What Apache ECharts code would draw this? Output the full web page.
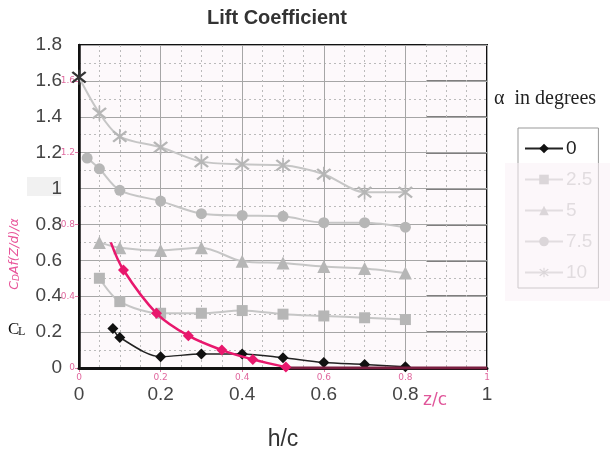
<!DOCTYPE html>
<html>
<head>
<meta charset="utf-8">
<script src="https://cdn.jsdelivr.net/npm/echarts@6/dist/echarts.min.js"></script>
<style>html,body{margin:0;padding:0;background:#fff}#c{width:610px;height:452px}</style>
</head>
<body>
<div id="c"></div>
<script>
// ---- data ----
const seriesNames = ['0', '2.5', '5', '7.5', '10'];
const alpha0X  = [0.083, 0.1, 0.2, 0.3, 0.4, 0.5, 0.6, 0.7, 0.8];
const alpha0Y  = [0.22, 0.17, 0.063, 0.078, 0.078, 0.057, 0.03, 0.02, 0.007];
const alpha25X = [0.05, 0.1, 0.2, 0.3, 0.4, 0.5, 0.6, 0.7, 0.8];
const alpha25Y = [0.50, 0.37, 0.305, 0.305, 0.32, 0.30, 0.29, 0.28, 0.27];
const alpha5X  = [0.05, 0.1, 0.2, 0.3, 0.4, 0.5, 0.6, 0.7, 0.8];
const alpha5Y  = [0.70, 0.67, 0.655, 0.67, 0.595, 0.585, 0.565, 0.555, 0.53];
const alpha75X = [0.02, 0.05, 0.1, 0.2, 0.3, 0.4, 0.5, 0.6, 0.7, 0.8];
const alpha75Y = [1.17, 1.11, 0.99, 0.93, 0.86, 0.85, 0.845, 0.81, 0.81, 0.785];
const alpha10X = [0, 0.05, 0.1, 0.2, 0.3, 0.4, 0.5, 0.6, 0.7, 0.8];
const alpha10Y = [1.62, 1.42, 1.29, 1.23, 1.15, 1.135, 1.13, 1.08, 0.98, 0.98];
// overlaid C_D A f(Z/d)/alpha vs z/c curve
const pinkX = [0.078, 0.109, 0.19, 0.268, 0.35, 0.426, 0.507];
const pinkY = [0.70, 0.546, 0.305, 0.18, 0.10, 0.048, 0.005];
const pinkTailX = [0.507, 1.0];
const pinkTailY = [0, 0];

const zip = (xs, ys) => xs.map((x, i) => [x, ys[i]]);

const PINK = '#e8186d';
const GREY_LINE = '#c6c6c6';
const GREY_MARK = '#b6b6b6';
const asterisk = 'path://M9,0 L11,0 L11,20 L9,20 Z M1,4 L3,2 L19,16 L17,18 Z M17,2 L19,4 L3,18 L1,16 Z';

const chart = echarts.init(document.getElementById('c'), null, {renderer: 'canvas'});

function greySeries(name, xs, ys, symbol, size) {
  return {
    name, type: 'line', xAxisIndex: 0, yAxisIndex: 0,
    data: zip(xs, ys), smooth: 0.3, symbol, symbolSize: size,
    lineStyle: {color: GREY_LINE, width: 2},
    itemStyle: {color: GREY_MARK},
    z: 3
  };
}

const s10 = greySeries('10', alpha10X, alpha10Y, asterisk, 15);
s10.data = s10.data.map((p, i) => i === 0 ? {value: p, itemStyle: {color: '#333'}} : p);

const pinkData = zip(pinkX, pinkY).map((p, i) => i === 0 ? {value: p, symbol: 'none'} : p);

const option = {
  backgroundColor: '#fff',
  animation: false,
  title: {
    text: 'Lift Coefficient', left: 202, top: 3,
    textStyle: {fontFamily: 'Liberation Sans, Arial', fontWeight: 'bold', fontSize: 20, color: '#333'}
  },
  legend: {
    data: seriesNames.map((n, i) => ({name: n, textStyle: {color: i === 0 ? '#222' : '#c4c4c4'}})),
    orient: 'vertical', left: 518, top: 128,
    itemWidth: 38, itemHeight: 12, itemGap: 12,
    padding: [11, 6, 6, 6],
    borderColor: '#999', borderWidth: 1,
    selectedMode: false,
    textStyle: {fontFamily: 'Liberation Sans, Arial', fontSize: 19, color: '#c4c4c4', padding: [0, 0, 0, -2]}
  },
  grid: [
    {left: 79, right: 123, top: 45, bottom: 84, outerBoundsMode: 'none', containLabel: false, show: true, backgroundColor: '#fdf9fb', borderColor: '#111', borderWidth: 2},
    {left: 426, right: 123, top: 45, bottom: 84, outerBoundsMode: 'none', containLabel: false, show: false}
  ],
  xAxis: [
    {
      type: 'value', gridIndex: 0, min: 0, max: 1, interval: 0.2,
      name: 'h/c', nameLocation: 'middle', nameGap: 60,
      nameTextStyle: {fontFamily: 'Liberation Sans, Arial', fontSize: 23, color: '#333'},
      axisLine: {show: true, lineStyle: {color: '#111', width: 3}},
      axisTick: {show: false},
      axisLabel: {fontFamily: 'Liberation Sans, Arial', fontSize: 19, color: '#444', margin: 17},
      splitLine: {show: true, lineStyle: {color: '#a6a6a6', width: 1}},
      minorTick: {show: false, splitNumber: 4},
      minorSplitLine: {show: true, lineStyle: {color: '#bbb', width: 1, type: [2, 3]}},
      z: 2
    },
    {
      type: 'value', gridIndex: 0, position: 'bottom', min: 0, max: 1, interval: 0.2,
      axisLine: {show: false},
      axisTick: {show: true, length: 4, lineStyle: {color: '#e47aa8'}},
      axisLabel: {fontFamily: 'DejaVu Sans', fontSize: 9, color: '#e0699f', margin: 5},
      splitLine: {show: false}
    },
    {
      type: 'value', gridIndex: 1, min: 0.85, max: 1, show: true,
      axisLine: {show: false}, axisTick: {show: false}, axisLabel: {show: false}, splitLine: {show: false}
    }
  ],
  yAxis: [
    {
      type: 'value', gridIndex: 0, min: 0, max: 1.8, interval: 0.2,
      axisLine: {show: true, lineStyle: {color: '#111', width: 2.5}},
      axisTick: {show: false},
      axisLabel: {fontFamily: 'Liberation Sans, Arial', fontSize: 19, color: '#444', margin: 17},
      splitLine: {show: true, lineStyle: {color: '#a6a6a6', width: 1}},
      minorTick: {show: false, splitNumber: 2},
      minorSplitLine: {show: true, lineStyle: {color: '#bbb', width: 1, type: [2, 3]}},
      z: 2
    },
    {
      type: 'value', gridIndex: 0, position: 'left', min: 0, max: 1.8, interval: 0.4,
      axisLine: {show: false},
      axisTick: {show: true, length: 4, lineStyle: {color: '#e47aa8'}},
      axisLabel: {fontFamily: 'DejaVu Sans', fontSize: 9, color: '#e0699f', margin: 4, showMaxLabel: false},
      splitLine: {show: false}
    },
    {
      type: 'value', gridIndex: 1, min: 0, max: 1.8, interval: 0.2,
      axisLine: {show: false}, axisTick: {show: false}, axisLabel: {show: false},
      splitLine: {show: true, lineStyle: {color: '#555', width: 1.5}}
    }
  ],
  series: [
    greySeries('2.5', alpha25X, alpha25Y, 'rect', 11),
    greySeries('5', alpha5X, alpha5Y, 'triangle', 13),
    greySeries('7.5', alpha75X, alpha75Y, 'circle', 11),
    s10,
    {
      name: '0', type: 'line', xAxisIndex: 0, yAxisIndex: 0,
      data: zip(alpha0X, alpha0Y), smooth: 0.3, symbol: 'diamond', symbolSize: 11,
      lineStyle: {color: '#222', width: 1.5}, itemStyle: {color: '#111'}, z: 4
    },
    {
      name: 'pinkTail', type: 'line', xAxisIndex: 1, yAxisIndex: 1,
      data: zip(pinkTailX, pinkTailY), symbol: 'none',
      lineStyle: {color: '#7a1f40', width: 3}, z: 5
    },
    {
      name: 'CDA', type: 'line', xAxisIndex: 1, yAxisIndex: 1,
      data: pinkData, smooth: 0.35, symbol: 'diamond', symbolSize: 11,
      lineStyle: {color: PINK, width: 2.5}, itemStyle: {color: PINK}, z: 6
    },
    {
      name: 'grid2', type: 'line', xAxisIndex: 2, yAxisIndex: 2, data: [], silent: true
    }
  ],
  graphic: [
    {type: 'rect', left: 27, top: 177, shape: {width: 34, height: 19}, style: {fill: '#f1f1f1'}, z: -10},
    {type: 'text', left: 494, top: 89, style: {text: 'α  in degrees', font: '20px "Liberation Serif", "Times New Roman", serif', fill: '#222'}},
    {type: 'text', left: 8, top: 321, style: {text: 'C', font: '17px "Liberation Serif", serif', fill: '#111'}},
    {type: 'text', left: 18, top: 326, style: {text: 'L', font: '12px "Liberation Serif", serif', fill: '#111'}},
    {type: 'text', x: 15, y: 254, rotation: Math.PI / 2, style: {text: '{i|C}{s|D}{i|Af(Z/d)/α}', align: 'center', verticalAlign: 'middle', rich: {i: {fontFamily: 'DejaVu Sans', fontStyle: 'italic', fontSize: 12.5, fill: '#e8559a'}, s: {fontFamily: 'DejaVu Sans', fontStyle: 'italic', fontSize: 9, fill: '#e8559a', verticalAlign: 'bottom'}}}},
    {type: 'text', left: 423, top: 392, style: {text: 'z/c', font: '17px "DejaVu Sans", sans-serif', fill: '#e0569a'}},
    {type: 'rect', left: 505, top: 163, shape: {width: 105, height: 138}, style: {fill: 'rgba(250,241,246,0.55)'}, z: 100}
  ]
};
chart.setOption(option);
</script>
</body>
</html>
